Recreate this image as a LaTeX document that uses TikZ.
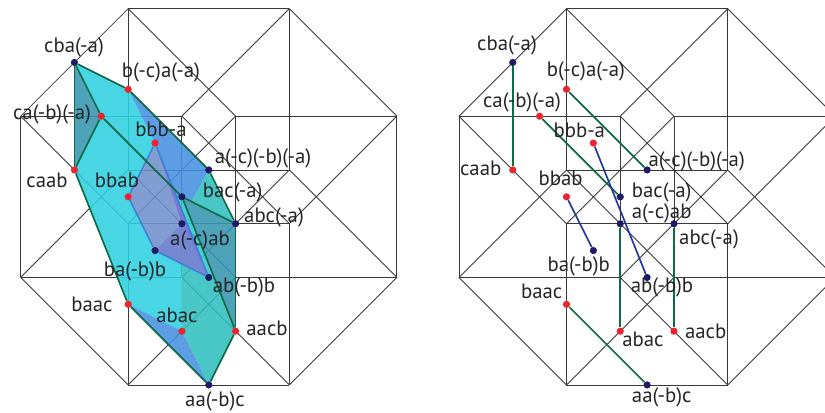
\documentclass[tikz,border=0pt]{standalone}
\usepackage{fontspec}
\setmainfont{PT Sans}
\usepackage{xcolor}
\usetikzlibrary{calc}
\definecolor{wirecol}{HTML}{3A3A3A}
\definecolor{edgegreen}{HTML}{0F6B45}
\definecolor{edgeblue}{HTML}{24389A}
\definecolor{innerblue}{HTML}{3A7FD8}
\definecolor{dotred}{HTML}{EE2330}
\definecolor{dotnavy}{HTML}{1E1A66}
\definecolor{facecyan}{HTML}{2FD0E0}
\definecolor{faceblue}{HTML}{4590E0}
\definecolor{faceteal}{HTML}{30BEBE}
\definecolor{facesteel}{HTML}{3595B0}
\definecolor{faceinner}{HTML}{6F90CC}
\definecolor{facepurple}{HTML}{7A74D8}
\tikzset{
	wire/.style={wirecol,line width=0.65pt},
	greenedge/.style={edgegreen,line width=1.25pt},
	blueedge/.style={edgeblue,line width=1.25pt},
	inneredge/.style={innerblue,line width=1.1pt},
	face/.style={fill opacity=0.88},
	reddot/.style={circle,fill=dotred,inner sep=0pt,minimum size=5.4pt},
	navydot/.style={circle,fill=dotnavy,inner sep=0pt,minimum size=5.4pt},
	lbl/.style={text=black!85,font=\fontsize{15.6pt}{17pt}\selectfont,inner sep=0pt},
	grid/.style={shift={(#1,8.7)},x=40.31pt,y=-40.31pt}
}
\newcommand{\drawwire}{
	\foreach \a in {0,3} \foreach \b in {0,3} \foreach \c in {0,2} \foreach \d in {0,2} {
		\coordinate (v) at ({2+\a+\c-\d},{\b+\c+\d});
		\ifnum\a=0 \draw[wire] (v) -- ++(3,0); \fi
		\ifnum\b=0 \draw[wire] (v) -- ++(0,3); \fi
		\ifnum\c=0 \draw[wire] (v) -- ++(2,2); \fi
		\ifnum\d=0 \draw[wire] (v) -- ++(-2,2); \fi
	}
}
\newcommand{\putdots}[1]{
	\foreach \n/\x/\y in {bcaa/2/1.5,caba/1.5/2,caab/1/3,bbba/2.5/2.5,bbab/2/3.5,baac/2/5.5,abac/3/6,aacb/4/6}
		\node[reddot] (#1\n) at (\x,\y) {};
	\foreach \n/\x/\y in {cba/1/1,acba/3.5/3,baca/3/3.5,acab/3/4,abca/4/4,baba/2.5/4.5,abbb/3.5/5,aabc/3.5/7}
		\node[navydot] (#1\n) at (\x,\y) {};
}
\begin{document}
\begin{tikzpicture}[x=0.75pt,y=-0.75pt]
	\useasboundingbox (0,0) rectangle (825,412);
	\clip (0,0) rectangle (825,412);
	% left figure
	\begin{scope}[grid=20.67]
		\drawwire
		\foreach \n/\x/\y in {cba/1/1,bcaa/2/1.5,caba/1.5/2,caab/1/3,bbba/2.5/2.5,bbab/2/3.5,acba/3.5/3,baca/3/3.5,acab/3/4,abca/4/4,baba/2.5/4.5,abbb/3.5/5,baac/2/5.5,abac/3/6,aacb/4/6,aabc/3.5/7}
			\coordinate (\n) at (\x,\y);
		\coordinate (q) at (3,4.75);
		\coordinate (t) at (2.9,3.5);
		\coordinate (r) at (3.18,3.59);
		\coordinate (s) at (3.6,5);
		\fill[facecyan,face] (cba) -- (bcaa) -- (bbba) -- (bbab) -- (baba) -- (q) -- (abac) -- (baac) -- (caab) -- (caba) -- cycle;
		\fill[facesteel,face] (cba) -- (caba) -- (caab) -- cycle;
		\fill[faceblue,face] (bcaa) -- (acba) -- (r) -- (baca) -- (t) -- (bbba) -- cycle;
		\fill[faceteal,face] (acba) -- (abca) -- (r) -- cycle;
		\fill[facesteel,face] (baca) -- (abca) -- (aacb) -- cycle;
		\fill[facecyan!60!faceteal,face] (t) -- (baca) -- (s) -- (abbb) -- cycle;
		\fill[faceteal,face] (q) -- (abbb) -- (s) -- (aacb) -- (aabc) -- (abac) -- cycle;
		\fill[faceblue,face] (baac) -- (abac) -- (aabc) -- cycle;
		\fill[faceinner,face] (bbba) -- (bbab) -- (baba) -- (abbb) -- cycle;
		\fill[facepurple,face] (bbba) -- (acab) -- (abbb) -- cycle;
		\fill[facepurple!40!faceinner,face] (acab) -- (baba) -- (abbb) -- cycle;
		\putdots{l}
		\draw[inneredge] (lbbba) -- (lbbab);
		\draw[inneredge] (lbbab) -- (lbaba);
		\draw[inneredge] (lbaba) -- (labbb);
		\draw[inneredge] (lbbba) -- (labbb);
		\draw[greenedge] (lcba) -- (lbcaa);
		\draw[greenedge] (lbcaa) -- (lacba);
		\draw[greenedge] (lacba) -- (labca);
		\draw[greenedge] (labca) -- (laacb);
		\draw[greenedge] (laacb) -- (laabc);
		\draw[greenedge] (laabc) -- (lbaac);
		\draw[greenedge] (lbaac) -- (lcaab);
		\draw[greenedge] (lcaab) -- (lcba);
		\draw[greenedge] (lcba) -- (lcaba);
		\draw[greenedge] (lcaba) -- (lcaab);
		\draw[greenedge] (lcaba) -- (lbaca);
		\draw[greenedge] (lbaca) -- (labca);
		\draw[greenedge] (lbaca) -- (laacb);
	\end{scope}
	\node[lbl] (tcba) at (74,47.5) {cba(-a)};
	\node[lbl] (tbcaa) at (161,72) {b(-c)a(-a)};
	\node[lbl] (tcaba) at (52,114) {ca(-b)(-a)};
	\node[lbl] (tcaab) at (47,180) {caab};
	\node[lbl] (tbbba) at (161,129) {bbb-a};
	\node[lbl] (tbbab) at (117,180) {bbab};
	\node[lbl] (tacba) at (263,158) {a(-c)(-b)(-a)};
	\node[lbl] (tbaca) at (232.7,192.7) {bac(-a)};
	\node[lbl] (tacab) at (200,240) {a(-c)ab};
	\node[lbl] (tabca) at (274,217) {abc(-a)};
	\node[lbl] (tbaba) at (135,271) {ba(-b)b};
	\node[lbl] (tabbb) at (244,287) {ab(-b)b};
	\node[lbl] (tbaac) at (92,304) {baac};
	\node[lbl] (tabac) at (177,315) {abac};
	\node[lbl] (taacb) at (267,328) {aacb};
	\node[lbl] (taabc) at (215,401) {aa(-b)c};
	% right figure
	\begin{scope}[grid=459]
		\drawwire
		\putdots{r}
		\draw[greenedge] (rcba) -- (rcaab);
		\draw[greenedge] (rbcaa) -- (racba);
		\draw[greenedge] (rcaba) -- (rbaca);
		\draw[greenedge] (racab) -- (rabac);
		\draw[greenedge] (rabca) -- (raacb);
		\draw[greenedge] (rbaac) -- (raabc);
		\draw[blueedge] (rbbba) -- (rabbb);
		\draw[blueedge] (rbbab) -- (rbaba);
	\end{scope}
	\node[lbl] (ucba) at (507,45.7) {cba(-a)};
	\node[lbl] (ubcaa) at (586,71) {b(-c)a(-a)};
	\node[lbl] (ucaba) at (522,102.7) {ca(-b)(-a)};
	\node[lbl] (ucaab) at (480.7,168) {caab};
	\node[lbl] (ubbba) at (579.3,130.7) {bbb-a};
	\node[lbl] (ubbab) at (560.7,178) {bbab};
	\node[lbl] (uacba) at (696.7,161.7) {a(-c)(-b)(-a)};
	\node[lbl] (ubaca) at (661.7,192) {bac(-a)};
	\node[lbl] (uacab) at (661.7,213) {a(-c)ab};
	\node[lbl] (uabca) at (709,239) {abc(-a)};
	\node[lbl] (ubaba) at (578.7,266.7) {ba(-b)b};
	\node[lbl] (uabbb) at (662,287) {ab(-b)b};
	\node[lbl] (ubaac) at (541.7,291) {baac};
	\node[lbl] (uabac) at (643,339) {abac};
	\node[lbl] (uaacb) at (705.7,331.7) {aacb};
	\node[lbl] (uaabc) at (661.7,397) {aa(-b)c};
\end{tikzpicture}
\end{document}
